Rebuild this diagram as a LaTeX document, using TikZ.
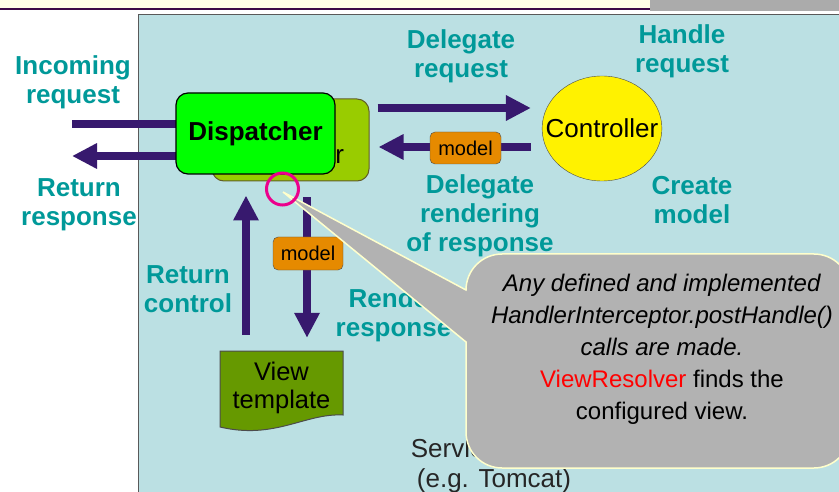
\documentclass[tikz,border=0pt]{standalone}
\usepackage{fontspec}
\setmainfont{Liberation Sans}
\usetikzlibrary{arrows.meta,shapes.geometric}

\definecolor{slidecream}{RGB}{255,255,230}
\definecolor{slidepurple}{RGB}{60,10,70}
\definecolor{slidegray}{RGB}{171,171,171}
\definecolor{enginebg}{RGB}{187,224,227}
\definecolor{labelteal}{RGB}{0,153,153}
\definecolor{flowpurple}{RGB}{55,25,110}
\definecolor{dispgreen}{RGB}{0,255,0}
\definecolor{frontolive}{RGB}{153,204,0}
\definecolor{modelorange}{RGB}{230,138,0}
\definecolor{viewgreen}{RGB}{102,153,0}
\definecolor{notegray}{RGB}{178,178,178}
\definecolor{noteedge}{RGB}{255,255,204}

\begin{document}
\begin{tikzpicture}[x=1pt,y=-1pt]

    \useasboundingbox (0,0) rectangle (839,492);

    % Styles
    \tikzstyle{teallabel}=[text=labelteal,font=\fontsize{26}{29}\selectfont\bfseries,align=center,inner sep=0pt]
    \tikzstyle{flow}=[draw=flowpurple,line width=8pt,-{Triangle[length=25pt,width=24pt]}]
    \tikzstyle{feed}=[draw=flowpurple,line width=8pt]
    \tikzstyle{modelbox}=[draw=black!70,fill=modelorange,rounded corners=5pt,minimum width=71pt,minimum height=32pt,inner sep=0pt,font=\fontsize{20}{22}\selectfont]

    % slide background
    \fill[white] (0,0) rectangle (839,492);
    \fill[slidecream] (0,0) rectangle (839,8);
    \draw[slidepurple,line width=2.5pt] (0,9) -- (650,9);
    \fill[slidegray] (650,0) rectangle (839,11);

    % servlet engine
    \draw[fill=enginebg,draw=black!65,line width=1pt] (138,15) rectangle (860,510);
    \node[align=center,text=black!85,font=\fontsize{26}{30}\selectfont,inner sep=0pt] (engine) at (494,465.5) {Servlet engine\\(e.g. Tomcat)};

    % step labels
    \node[teallabel] (incoming) at (73,82.5) {Incoming\\request};
    \node[teallabel] (response) at (79,205) {Return\\response};
    \node[teallabel] (delegate) at (461,56) {Delegate\\request};
    \node[teallabel] (handle) at (682,51.5) {Handle\\request};
    \node[teallabel] (rendering) at (480,216) {Delegate\\rendering\\of response};
    \node[teallabel] (create) at (692,200) {Create\\model};
    \node[teallabel] (control) at (188,289) {Return\\control};
    \node[teallabel] (render) at (393.5,315) {Render\\response};

    % front controller
    \node[draw=olive!60!black,fill=frontolive,rounded corners=12pt,minimum width=157pt,minimum height=82pt,inner sep=0pt,align=center,font=\fontsize{26}{29}\selectfont,line width=1pt] (front) at (290.5,140) {Front\\controller};

    % incoming and outgoing
    \coordinate (inA) at (72,124);
    \coordinate (outA) at (72,156);
    \draw[feed] (inA) -- (inA -| front.west);
    \draw[flow] (outA -| front.west) -- (outA);

    % dispatcher
    \node[draw=black,fill=dispgreen,rounded corners=12pt,minimum width=159pt,minimum height=81pt,inner sep=0pt,font=\fontsize{26}{29}\selectfont\bfseries,line width=1.2pt] (disp) at (255.5,133.5) {Dispatcher};

    % controller
    \node[ellipse,draw=black!70,fill=yellow,minimum height=105pt,inner xsep=-14pt,inner ysep=0pt,font=\fontsize{26}{29}\selectfont] (ctrl) at (602,128.5) {Controller};

    \coordinate (reqY) at (0,108);
    \coordinate (rendY) at (0,147);
    \draw[flow,shorten <=8pt,shorten >=11pt] (front.east |- reqY) -- (ctrl.west |- reqY);
    \draw[flow,shorten <=11pt,shorten >=9pt] (ctrl.west |- rendY) -- (front.east |- rendY);
    \node[modelbox] (model1) at (465.5,148) {model};

    % view template
    \path[fill=viewgreen,draw=black!70,line width=1pt] (220,351) -- (343,351) -- (343,415) .. controls (305,413) and (275,440) .. (220,427) -- cycle;
    \node[align=center,font=\fontsize{25.5}{28}\selectfont,inner sep=0pt,minimum width=123pt,minimum height=74pt] (view) at (281.5,388) {View\\template};

    \coordinate (ctlX) at (246,0);
    \coordinate (rndX) at (307,0);
    \draw[flow,shorten <=16pt,shorten >=14pt] (view.north -| ctlX) -- (front.south -| ctlX);
    \draw[flow,shorten <=16pt,shorten >=13pt] (front.south -| rndX) -- (view.north -| rndX);
    \node[modelbox,minimum width=70pt,minimum height=33pt] (model2) at (308,253.5) {model};

    % callout
    \coordinate (tip) at (283,192);
    \draw[fill=notegray,draw=noteedge,line width=1.5pt] (tip) -- (466,290) arc[start angle=180,end angle=270,radius=36] -- (814,254) arc[start angle=270,end angle=360,radius=36] -- (850,432) arc[start angle=0,end angle=90,radius=36] -- (502,468) arc[start angle=90,end angle=180,radius=36] -- (466,342) -- cycle;
    \node[align=center,font=\fontsize{24}{32}\selectfont,inner sep=0pt] (note) at (662,349) {\textit{Any defined and implemented}\\\textit{HandlerInterceptor.postHandle()}\\\textit{calls are made.}\\\textcolor{red}{ViewResolver} finds the\\configured view.};
    \draw[magenta,line width=3pt] (282.5,189) circle[radius=16];

\end{tikzpicture}
\end{document}
